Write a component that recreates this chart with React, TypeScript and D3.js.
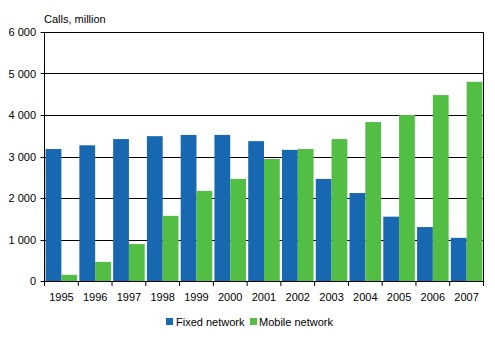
import React from "react";
import * as d3 from "d3";

const years = ["1995","1996","1997","1998","1999","2000","2001","2002","2003","2004","2005","2006","2007"];
const fixedNetwork = [3180, 3270, 3420, 3490, 3520, 3520, 3370, 3160, 2460, 2120, 1550, 1300, 1040];
const mobileNetwork = [150, 460, 890, 1570, 2170, 2460, 2940, 3180, 3420, 3830, 4000, 4480, 4800];
const yTicks = [0, 1000, 2000, 3000, 4000, 5000, 6000];
const seriesNames = ["Fixed network", "Mobile network"];
const colors = ["#1767b1", "#52be44"];

const W = 495, H = 338;
const left = 44.5, right = 483.5, top = 32, bottom = 281;
const font = "Arial, 'Liberation Sans', sans-serif";

export default function App() {
  const x = d3.scaleBand().domain(years).range([left, right]).paddingInner(0).paddingOuter(0);
  const inner = d3.scaleBand().domain(seriesNames).range([0, x.bandwidth()]).paddingInner(0).paddingOuter(0.07);
  const y = d3.scaleLinear().domain([0, 6000]).range([bottom, top]);
  const fmt = (v: number) => d3.format(",")(v).replace(/,/g, "\u2009");
  const series = [fixedNetwork, mobileNetwork];
  return (
    <svg width={W} height={H} style={{ position: "absolute", left: 0, top: 0, fontFamily: font }}>
      <rect width={W} height={H} fill="#fff" />
      {yTicks.map((t) => (
        <g key={t}>
          <line x1={left - 4} x2={right} y1={Math.round(y(t)) + 0.5} y2={Math.round(y(t)) + 0.5} stroke="#000" strokeWidth={1} />
          <text x={36} y={y(t) + 4} fontSize={11} textAnchor="end" fill="#000">{t === 0 ? "0" : fmt(t).replace(/\u2009/, " ")}</text>
        </g>
      ))}
      {years.map((yr, i) =>
        series.map((s, k) => (
          <rect key={yr + k}
            x={(x(yr) as number) + (inner(seriesNames[k]) as number)}
            y={y(s[i])}
            width={inner.bandwidth()}
            height={bottom - y(s[i])}
            fill={colors[k]} />
        ))
      )}
      <line x1={left} x2={left} y1={top} y2={bottom + 0.5} stroke="#000" />
      <line x1={right} x2={right} y1={top} y2={bottom + 0.5} stroke="#000" />
      <line x1={left} x2={right} y1={bottom + 0.5} y2={bottom + 0.5} stroke="#000" />
      {years.concat(["end"]).map((yr, i) => {
        const xx = i < years.length ? (x(yr) as number) : right;
        return <line key={"t" + i} x1={xx} x2={xx} y1={bottom} y2={bottom + 5} stroke="#000" />;
      })}
      {years.map((yr) => (
        <text key={"l" + yr} x={(x(yr) as number) + x.bandwidth() / 2} y={301} fontSize={11} textAnchor="middle" fill="#000">{yr}</text>
      ))}
      <text x={44} y={23} fontSize={11} fill="#000">Calls, million</text>
      <rect x={166} y={318} width={7} height={7} fill={colors[0]} />
      <text x={176} y={326} fontSize={11} fill="#000">{seriesNames[0]}</text>
      <rect x={250} y={318} width={7} height={7} fill={colors[1]} />
      <text x={259} y={326} fontSize={11} fill="#000">{seriesNames[1]}</text>
    </svg>
  );
}
